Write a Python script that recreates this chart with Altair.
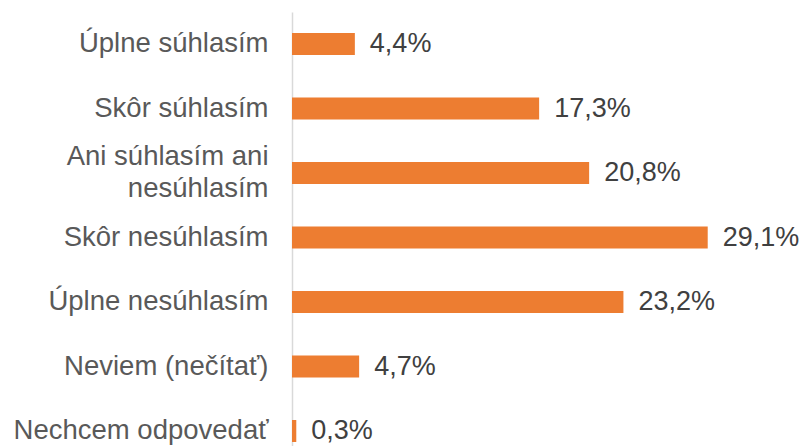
import altair as alt
import pandas as pd

categories = [
    "Úplne súhlasím",
    "Skôr súhlasím",
    "Ani súhlasím ani nesúhlasím",
    "Skôr nesúhlasím",
    "Úplne nesúhlasím",
    "Neviem (nečítať)",
    "Nechcem odpovedať",
]
values = [4.4, 17.3, 20.8, 29.1, 23.2, 4.7, 0.3]

df = pd.DataFrame({"cat": categories, "val": values})
df["lbl"] = [f"{v:.1f}".replace(".", ",") + "%" for v in values]

FONT = "Liberation Sans"
two_line = "Ani súhlasím ani nesúhlasím"
pad = "\u00a0" * 4

y_enc = alt.Y(
    "cat:N",
    sort=categories,
    title=None,
    scale=alt.Scale(paddingInner=0.659, paddingOuter=0.194, align=0.84),
    axis=alt.Axis(
        domainColor="#d9d9d9",
        domainWidth=1.5,
        ticks=False,
        labelFont=FONT,
        labelFontSize=27.5,
        labelColor="#595959",
        labelLimit=400,
        labelLineHeight=31.5,
        labelPadding=24,
        labelOffset={"condition": {"test": f"datum.value == '{two_line}'", "value": -15.75}, "value": 0},
        labelExpr=f"datum.value == '{two_line}' ? ['Ani súhlasím ani', 'nesúhlasím{pad}'] : datum.label",
    ),
)

x_enc = alt.X(
    "val:Q",
    title=None,
    scale=alt.Scale(domain=[0, 35], nice=False, zero=True),
    axis=None,
)

bars = alt.Chart(df).mark_bar(color="#ED7D31").encode(y=y_enc, x=x_enc)
text = alt.Chart(df).mark_text(
    align="left", baseline="middle", dx=15, font=FONT, fontSize=27, color="#404040"
).encode(y=alt.Y("cat:N", sort=categories), x=alt.X("val:Q"), text="lbl:N")

chart = (
    alt.layer(bars, text)
    .properties(
        width=500,
        height=434,
        autosize=alt.AutoSizeParams(type="none"),
        padding={"left": 284, "top": 4, "right": 8, "bottom": 0},
    )
    .configure_view(stroke=None)
)

chart.save("out.html", embed_options={"renderer": "svg", "actions": False})
